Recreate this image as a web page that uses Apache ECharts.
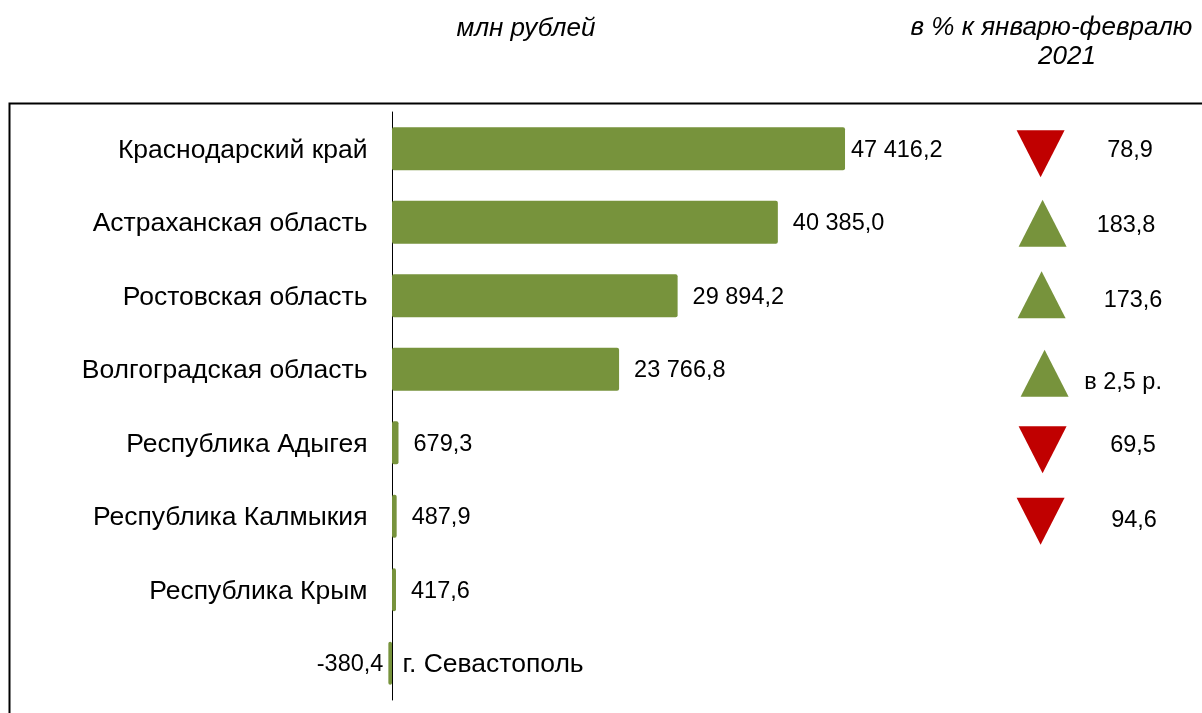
<!DOCTYPE html>
<html>
<head>
<meta charset="utf-8">
<script src="https://cdn.jsdelivr.net/npm/echarts@6/dist/echarts.min.js"></script>
<style>
  html, body { margin: 0; padding: 0; background: #fff; }
  #chart { width: 1202px; height: 713px; }
</style>
</head>
<body>
<div id="chart"></div>
<script>
// регионы сверху вниз
var regions = ['Краснодарский край', 'Астраханская область', 'Ростовская область', 'Волгоградская область',
  'Республика Адыгея', 'Республика Калмыкия', 'Республика Крым', 'г. Севастополь'];
// млн рублей
var values = [47416.2, 40385.0, 29894.2, 23766.8, 679.3, 487.9, 417.6, -380.4];
// в % к январю-февралю 2021 (в 2,5 р. = 250)
var pctValues = [78.9, 183.8, 173.6, 250, 69.5, 94.6, null, null];
var pctText = ['78,9', '183,8', '173,6', 'в 2,5 р.', '69,5', '94,6', '', ''];

// небольшие сдвиги значков и подписей справа, как в исходнике (px)
var triNudge = [[-1, 5], [1, 1], [0, -1], [3, 4], [1, 7], [-1, 5]];
var textNudge = [[0, 2], [-4, 3], [3, 5], [-7, 13], [3, 3], [4, 4]];

var GREEN = '#77933c';
var RED = '#c00000';
var FONT = 'Liberation Sans, Arial, sans-serif';

function fmt(v) {
  var s = Math.abs(v).toFixed(1).split('.');
  var int = s[0].replace(/\B(?=(\d{3})+(?!\d))/g, ' ');
  return (v < 0 ? '-' : '') + int + ',' + s[1];
}

var chart = echarts.init(document.getElementById('chart'), null, { renderer: 'canvas' });

var barData = values.map(function (v, i) {
  var item = { value: v };
  if (v < 0) item.label = { position: 'left', distance: 5 };
  else if (i === 0) item.label = { distance: 6 };
  return item;
});

// подписи регионов у нулевой оси
var nameData = regions.map(function (name, i) {
  var item = { value: 0, name: name };
  if (values[i] < 0) item.label = { position: 'right', distance: 10 };
  return item;
});

var triData = pctValues.map(function (v, i) {
  if (v == null) return null;
  var up = v >= 100;
  return {
    value: 28,
    symbolRotate: up ? 0 : 180,
    symbolOffset: triNudge[i],
    itemStyle: { color: up ? GREEN : RED }
  };
});

var textData = pctText.map(function (t, i) {
  if (!t) return null;
  return { value: 68.2, name: t, label: { offset: textNudge[i] } };
});

function titleText(str, x, y) {
  return {
    type: 'text', x: x, y: y, silent: true,
    style: { text: str, fontFamily: FONT, fontSize: 26, fontStyle: 'italic', fill: '#000',
      align: 'center', verticalAlign: 'middle' }
  };
}

var option = {
  animation: false,
  graphic: [
    titleText('млн рублей', 526, 29),
    titleText('в % к январю-февралю', 1051.5, 28),
    titleText('2021', 1067, 57),
    {
      type: 'rect',
      shape: { x: 9.5, y: 103.5, width: 1300, height: 700 },
      style: { fill: 'none', stroke: '#000', lineWidth: 2 },
      silent: true
    }
  ],
  grid: [
    { left: 382.45, top: 112, width: 582.8, height: 588 },
    { left: 980, top: 112, width: 220, height: 588 }
  ],
  xAxis: [
    { type: 'value', gridIndex: 0, min: -1000, max: 60000, show: false },
    { type: 'value', gridIndex: 1, min: 0, max: 100, show: false }
  ],
  yAxis: [
    { type: 'category', gridIndex: 0, data: regions, inverse: true,
      axisLine: { show: true, onZero: true, lineStyle: { color: '#000', width: 1 } },
      axisTick: { show: false }, axisLabel: { show: false }, splitLine: { show: false } },
    { type: 'category', gridIndex: 1, data: regions, inverse: true, show: false }
  ],
  series: [
    {
      type: 'bar', xAxisIndex: 0, yAxisIndex: 0, data: barData, barWidth: 43,
      itemStyle: { color: GREEN, borderRadius: 2 },
      label: { show: true, position: 'right', distance: 15, offset: [0, 1.5], fontFamily: FONT, fontSize: 23.5, color: '#000',
        formatter: function (p) { return fmt(p.value); } },
      z: 2
    },
    {
      type: 'scatter', xAxisIndex: 0, yAxisIndex: 0, data: nameData, symbolSize: 1,
      itemStyle: { color: 'rgba(0,0,0,0)', opacity: 1 }, silent: true,
      label: { show: true, position: 'left', distance: 24, offset: [0, 1.5], fontFamily: FONT, fontSize: 26.5, color: '#000',
        formatter: function (p) { return p.name; } },
      z: 3
    },
    {
      type: 'scatter', xAxisIndex: 1, yAxisIndex: 1, data: triData,
      symbol: 'triangle', symbolSize: [48, 47], silent: true,
      itemStyle: { opacity: 1 }
    },
    {
      type: 'scatter', xAxisIndex: 1, yAxisIndex: 1, data: textData, symbolSize: 1,
      itemStyle: { color: 'rgba(0,0,0,0)', opacity: 1 }, silent: true,
      label: { show: true, position: 'inside', fontFamily: FONT, fontSize: 23.5, color: '#000',
        formatter: function (p) { return p.name; } }
    }
  ]
};

chart.setOption(option);
</script>
</body>
</html>
